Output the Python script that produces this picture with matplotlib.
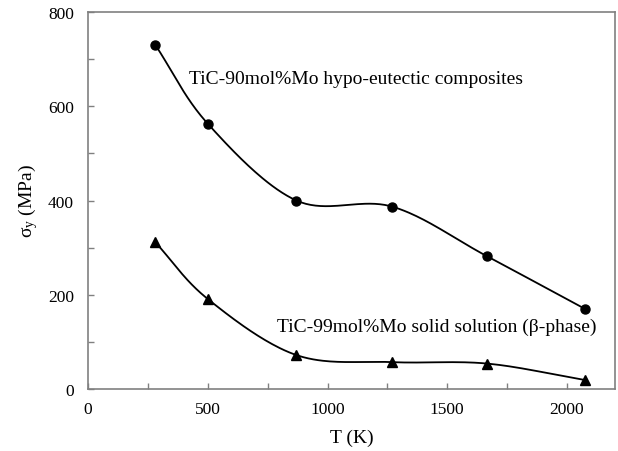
import numpy as np
import matplotlib
matplotlib.use('Agg')
import matplotlib.pyplot as plt
from matplotlib.ticker import MultipleLocator, FuncFormatter

# temperatures (K) and yield stress (MPa)
temps = [280, 500, 870, 1270, 1665, 2075]
hypo_eutectic = [731, 563, 400, 387, 282, 170]
solid_solution = [312, 191, 72, 57, 54, 19]

label_hypo = 'TiC-90mol%Mo hypo-eutectic composites'
label_solid = 'TiC-99mol%Mo solid solution (\u03b2-phase)'


def smooth(xs, ys, n=40):
	# catmull-rom curve through the points, like a spreadsheet "smoothed line"
	x = np.asarray(xs, float)
	y = np.asarray(ys, float)
	px = np.concatenate([[2 * x[0] - x[1]], x, [2 * x[-1] - x[-2]]])
	py = np.concatenate([[2 * y[0] - y[1]], y, [2 * y[-1] - y[-2]]])
	out_x, out_y = [], []
	t = np.linspace(0, 1, n)
	for i in range(1, len(px) - 2):
		for p, out in ((px, out_x), (py, out_y)):
			p0, p1, p2, p3 = p[i - 1], p[i], p[i + 1], p[i + 2]
			seg = 0.5 * ((2 * p1) + (-p0 + p2) * t +
						 (2 * p0 - 5 * p1 + 4 * p2 - p3) * t ** 2 +
						 (-p0 + 3 * p1 - 3 * p2 + p3) * t ** 3)
			out.extend(seg)
	return out_x, out_y


plt.rcParams['font.family'] = ['Liberation Serif', 'DejaVu Serif']

fig = plt.figure(figsize=(6.18, 4.52), dpi=100)
ax = fig.add_axes([0.1424, 0.1372, 0.8526, 0.834])

sx, sy = smooth(temps, hypo_eutectic)
ax.plot(sx, sy, color='black', lw=1.3)
ax.plot(temps, hypo_eutectic, 'o', color='black', ms=6.5, ls='none')

sx, sy = smooth(temps, solid_solution)
ax.plot(sx, sy, color='black', lw=1.3)
ax.plot(temps, solid_solution, '^', color='black', ms=6.5, ls='none')

ax.text(420, 658, label_hypo, fontsize=14, va='center', ha='left')
ax.text(790, 133, label_solid, fontsize=14, va='center', ha='left')

ax.set_xlim(0, 2200)
ax.set_ylim(0, 800)
ax.xaxis.set_major_locator(MultipleLocator(250))
ax.yaxis.set_major_locator(MultipleLocator(100))
ax.xaxis.set_major_formatter(FuncFormatter(lambda v, p: '%d' % v if v % 500 == 0 else ''))
ax.yaxis.set_major_formatter(FuncFormatter(lambda v, p: '%d' % v if v % 200 == 0 else ''))
ax.tick_params(direction='in', length=4, width=1, color='#808080', labelsize=12.5, pad=9)
ax.tick_params(axis='y', pad=10)
for side in ax.spines.values():
	side.set_color('#808080')
	side.set_linewidth(1.2)

ax.set_xlabel('T (K)', fontsize=14, labelpad=8)
ax.set_ylabel(r'$\mathregular{\sigma_{y}}$ (MPa)', fontsize=14, labelpad=6)

fig.savefig('out.png', dpi=100)
